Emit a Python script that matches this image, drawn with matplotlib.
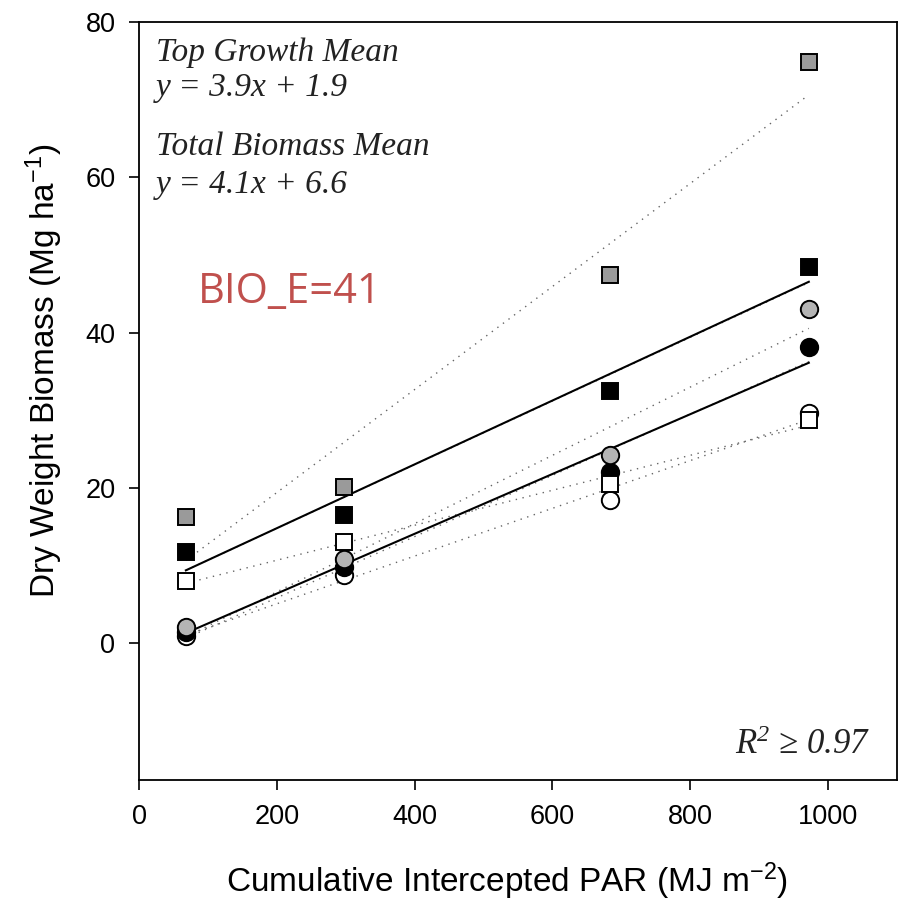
import numpy as np
import matplotlib.pyplot as plt

plt.rcParams['font.family'] = 'Liberation Sans'
plt.rcParams['mathtext.fontset'] = 'custom'
plt.rcParams['mathtext.rm'] = 'Liberation Sans'
plt.rcParams['mathtext.it'] = 'Liberation Serif:italic'
plt.rcParams['mathtext.default'] = 'regular'

# cumulative intercepted PAR at each harvest
par = np.array([68, 298, 684, 972])

# top growth (circles)
top_white = np.array([1.0, 8.8, 18.4, 29.7])
top_black = np.array([1.5, 9.8, 22.1, 38.2])
top_gray = np.array([2.1, 10.8, 24.2, 43.1])

# total biomass (squares)
tot_white = np.array([8.0, 13.0, 20.5, 28.8])
tot_black = np.array([11.8, 16.5, 32.5, 48.5])
tot_gray = np.array([16.3, 20.1, 47.4, 74.9])

# mean regression lines as drawn (slope, intercept)
total_mean_fit = (0.0411, 6.6)
top_mean_fit = (0.0385, -1.3)

series = [
    (top_white, 'o', 'white'),
    (top_black, 'o', 'black'),
    (top_gray, 'o', '#b4b4b4'),
    (tot_white, 's', 'white'),
    (tot_black, 's', 'black'),
    (tot_gray, 's', '#9a9a9a'),
]

fig = plt.figure(figsize=(8.98, 9.13), dpi=100)
ax = fig.add_axes([0.1548, 0.1457, 0.8441, 0.8302])

xs = np.array([par[0], par[-1]])

# per-series regressions, dotted
for vals, m, c in series:
    k, b = np.polyfit(par, vals, 1)
    ax.plot(xs, k * xs + b, color='#666666', lw=1.0, ls=(0, (1, 4)), zorder=1)

# mean lines
for k, b in (total_mean_fit, top_mean_fit):
    ax.plot(xs, k * xs + b, color='black', lw=1.5, zorder=2)

for vals, m, c in series:
    ms = 12.5 if m == 'o' else 11.5
    ax.plot(par, vals, ls='none', marker=m, ms=ms, mfc=c, mec='black',
            mew=1.4, zorder=3)

ax.set_xlim(0, 1100)
ax.set_ylim(-17.6, 80)
ax.set_xticks([0, 200, 400, 600, 800, 1000])
ax.set_yticks([0, 20, 40, 60, 80])
ax.tick_params(direction='out', length=7, width=1.2, labelsize=19.5, pad=10)
for s in ax.spines.values():
    s.set_linewidth(1.3)

ax.set_xlabel('Cumulative Intercepted PAR (MJ m$^{-2}$)', fontsize=24)
ax.set_ylabel('Dry Weight Biomass (Mg ha$^{-1}$)', fontsize=24)
ax.xaxis.set_label_coords(0.486, -0.106)
ax.yaxis.set_label_coords(-0.097, 0.54)

serif = dict(family='Liberation Serif', style='italic', fontsize=24,
             color='#222222', va='center', ha='left')
ax.text(25, 76.1, 'Top Growth Mean', **serif)
ax.text(25, 71.5, 'y = 3.9x + 1.9', **serif)
ax.text(25, 63.9, 'Total Biomass Mean', **serif)
ax.text(25, 59.0, 'y = 4.1x + 6.6', **serif)
ax.text(1061, -13.1, r'$R^{2}$ ≥ 0.97', family='Liberation Serif', style='italic',
        fontsize=25, color='#222222', va='center', ha='right')

ax.text(85, 45.2, 'BIO_E=41', family='Open Sans', fontsize=30,
        color='#c0504d', va='center', ha='left')

fig.savefig('out.png', dpi=100)
